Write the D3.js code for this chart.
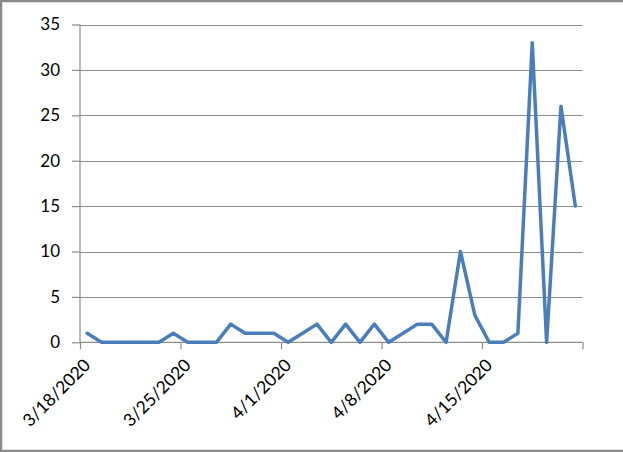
<!DOCTYPE html>
<html>
<head>
<meta charset="utf-8">
<script src="https://cdn.jsdelivr.net/npm/d3@7"></script>
<style>
  html, body { margin: 0; padding: 0; background: #fff; }
  svg { display: block; }
</style>
</head>
<body>
<svg id="chart" width="623" height="452"></svg>
<script>
// ---- data ----
const startDate = "2020-03-18";
const values = [1,0,0,0,0,0,1,0,0,0,2,1,1,1,0,1,2,0,2,0,2,0,1,2,2,0,10,3,0,0,1,33,0,26,15];
const yTicks = [0,5,10,15,20,25,30,35];
const xTickDates = ["2020-03-18","2020-03-25","2020-04-01","2020-04-08","2020-04-15","2020-04-22"];
const xTickLabels = ["3/18/2020","3/25/2020","4/1/2020","4/8/2020","4/15/2020",""];

(function () {
const parse = d3.utcParse("%Y-%m-%d");
const DAY = 86400000;
const start = parse(startDate);
const data = values.map((v, i) => ({ date: new Date(start.getTime() + i * DAY), value: v }));

const svg = d3.select("#chart");
const W = 623, H = 452;
const pLeft = 80, pRight = 582.5, pTop = 24.5, pBottom = 342.3;

const x = d3.scaleUtc()
  .domain([start, new Date(start.getTime() + values.length * DAY)])
  .range([pLeft, pRight]);
const y = d3.scaleLinear().domain([0, 35]).range([pBottom, pTop]);

const font = "Lato, 'Open Sans', sans-serif";

// border (left, top, bottom visible)
svg.append("path")
  .attr("d", `M${W},1 H1 V${H - 1} H${W}`)
  .attr("fill", "none")
  .attr("stroke", "#8a8a8a")
  .attr("stroke-width", 2.5);

// gridlines
svg.append("g")
  .selectAll("line")
  .data(yTicks.filter(t => t > 0))
  .join("line")
  .attr("x1", pLeft).attr("x2", pRight)
  .attr("y1", d => Math.round(y(d)) + 0.5).attr("y2", d => Math.round(y(d)) + 0.5)
  .attr("stroke", "#8c8c8c").attr("stroke-width", 1.2);

// y axis
const yAxis = d3.axisLeft(y).tickValues(yTicks).tickSize(8).tickPadding(12);
const gy = svg.append("g").attr("transform", `translate(${pLeft},0)`).call(yAxis);
gy.select(".domain").attr("stroke", "#8c8c8c").attr("stroke-width", 1.2).attr("d", `M0,${pTop}V${pBottom}`);
gy.selectAll(".tick line").attr("stroke", "#8c8c8c").attr("stroke-width", 1.2);
gy.selectAll(".tick text").attr("font-family", font).attr("font-size", 17).attr("fill", "#000");

// x axis
const xAxis = d3.axisBottom(x)
  .tickValues(xTickDates.map(parse))
  .tickSize(7)
  .tickFormat((d, i) => xTickLabels[i]);
const gx = svg.append("g").attr("transform", `translate(0,${pBottom})`).call(xAxis);
gx.select(".domain").attr("stroke", "#8c8c8c").attr("stroke-width", 1.2).attr("d", `M${pLeft},0H${pRight}`);
gx.selectAll(".tick line").attr("stroke", "#8c8c8c").attr("stroke-width", 1.2);
gx.selectAll(".tick text")
  .attr("font-family", font).attr("font-size", 17.5).attr("fill", "#000")
  .attr("text-anchor", "end")
  .attr("dy", null)
  .attr("y", 0)
  .attr("transform", "translate(11,24) rotate(-45)");

// line
const line = d3.line()
  .x(d => x(new Date(d.date.getTime() + DAY / 2)))
  .y(d => y(d.value))
  .curve(d3.curveLinear);

svg.append("path")
  .datum(data)
  .attr("d", line)
  .attr("fill", "none")
  .attr("stroke", "#4a7ebb")
  .attr("stroke-width", 3.5)
  .attr("stroke-linejoin", "round")
  .attr("stroke-linecap", "round");
})();
</script>
</body>
</html>
